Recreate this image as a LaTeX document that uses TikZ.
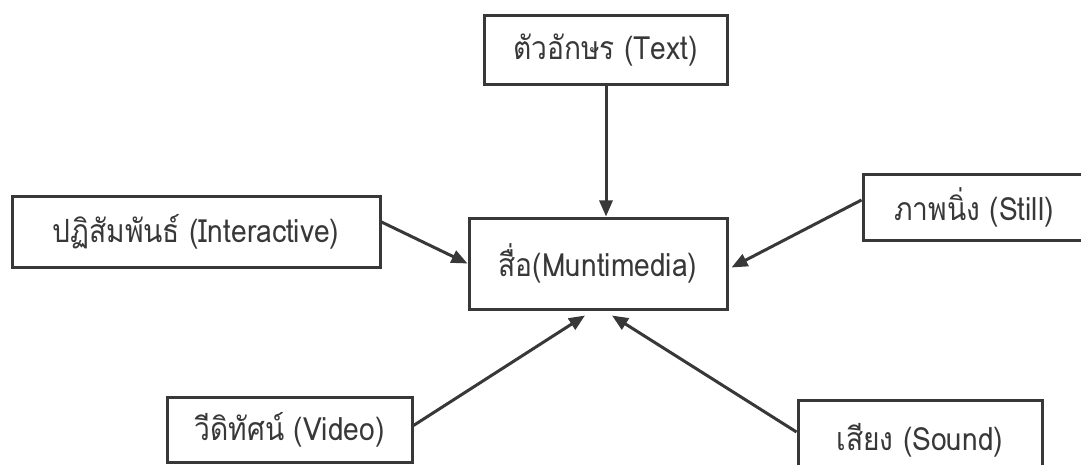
\documentclass[tikz,border=0pt]{standalone}
\usepackage{fontspec}
\setmainfont[Script=Thai,FakeStretch=0.88]{Loma}
\usetikzlibrary{arrows.meta,calc}
\definecolor{ink}{HTML}{383838}
\tikzset{
  box/.style={draw=ink, line width=3pt, rectangle, inner sep=0pt, text=ink, font=\fontsize{32}{38}\selectfont},
  link/.style={draw=ink, line width=3pt, -{Triangle[length=16pt,width=13pt]}}
}
\begin{document}
\begin{tikzpicture}[x=1pt,y=-1pt]
\useasboundingbox (0,0) rectangle (1081,465);
\fill[white] (0,0) rectangle (1081,465);
\clip (0,0) rectangle (1081,465);
\node[box, minimum width=243pt, minimum height=69pt] (text) at (605.5,50.5) {ตัวอักษร (Text)};
\node[box, minimum width=258pt, minimum height=91pt] (media) at (598,263.5) {สื่อ(Muntimedia)};
\node[box, minimum width=368pt, minimum height=70pt] (inter) at (196,232) {ปฏิสัมพันธ์ (Interactive)};
\node[box, minimum width=222pt, minimum height=65pt] (still) at (974,207.5) {ภาพนิ่ง (Still)};
\node[box, minimum width=245pt, minimum height=65pt] (video) at (289.5,429.5) {วีดิทัศน์ (Video)};
\node[box, minimum width=244pt, minimum height=80pt] (sound) at (920,440) {เสียง (Sound)};
\draw[link] (text.south -| 606,0) -- (media.north -| 606,0);
\draw[link] ($(inter.east)+(0,-10)$) -- (media.west);
\draw[link] ($(still.west)+(0,-7.5)$) -- ($(media.east)+(3,4)$);
\draw[link] ($(video.east)+(0,-4)$) -- ($(media.south)+(-13,5)$);
\draw[link] ($(sound.west)+(0,-8)$) -- ($(media.south)+(14,5)$);
\end{tikzpicture}
\end{document}
